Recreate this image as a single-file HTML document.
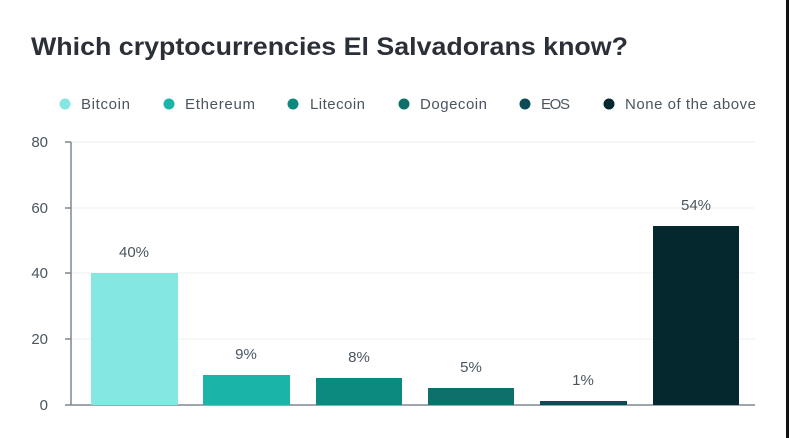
<!DOCTYPE html><html><head><style>body{margin:0;width:789px;height:438px;background:#fff;overflow:hidden;position:relative;font-family:"Liberation Sans",sans-serif}</style></head><body>
<div style="position:absolute;right:0;top:0;width:3px;height:438px;background:#111"></div>
<svg width="789" height="438" style="position:absolute;left:0;top:0" font-family="Liberation Sans, sans-serif">
<text x="31" y="55" font-size="25" font-weight="bold" fill="#2b3038" textLength="597" lengthAdjust="spacingAndGlyphs">Which cryptocurrencies El Salvadorans know?</text>
<g font-size="15" fill="#4a5560">
<circle cx="65" cy="104" r="5.5" fill="#84e8e1"/><text x="81" y="109" textLength="49">Bitcoin</text>
<circle cx="169" cy="104" r="5.5" fill="#1ab5a8"/><text x="185" y="109" textLength="70">Ethereum</text>
<circle cx="293" cy="104" r="5.5" fill="#0d8a80"/><text x="310" y="109" textLength="55">Litecoin</text>
<circle cx="404" cy="104" r="5.5" fill="#0e706b"/><text x="420" y="109" textLength="67">Dogecoin</text>
<circle cx="525" cy="104" r="5.5" fill="#0c4a55"/><text x="541" y="109" textLength="29">EOS</text>
<circle cx="609" cy="104" r="5.5" fill="#04282e"/><text x="625" y="109" textLength="131">None of the above</text>
</g>
<g stroke="#eef0f1"><line x1="71" x2="755" y1="142" y2="142"/><line x1="71" x2="755" y1="208" y2="208"/><line x1="71" x2="755" y1="273" y2="273"/><line x1="71" x2="755" y1="339" y2="339"/></g>
<g font-size="15" fill="#4a5560" text-anchor="end"><text x="48" y="147">80</text><text x="48" y="213">60</text><text x="48" y="278">40</text><text x="48" y="344">20</text><text x="48" y="410">0</text></g>
<g stroke="#7d8890" stroke-width="1.5"><line x1="71" x2="71" y1="142" y2="405"/><line x1="65" x2="71" y1="142" y2="142"/><line x1="65" x2="71" y1="208" y2="208"/><line x1="65" x2="71" y1="273" y2="273"/><line x1="65" x2="71" y1="339" y2="339"/><line x1="65" x2="755" y1="405" y2="405"/></g>
<rect x="91" y="273" width="87" height="132" fill="#84e8e1"/>
<rect x="203" y="375" width="87" height="30" fill="#1ab5a8"/>
<rect x="316" y="378" width="86" height="27" fill="#0d8a80"/>
<rect x="428" y="388" width="86" height="17" fill="#0e706b"/>
<rect x="540" y="401" width="87" height="4" fill="#0c4a55"/>
<rect x="653" y="226" width="86" height="179" fill="#04282e"/>
<g font-size="15" fill="#4a5560" text-anchor="middle"><text x="134" y="257">40%</text><text x="246" y="359">9%</text><text x="359" y="362">8%</text><text x="471" y="372">5%</text><text x="583" y="385">1%</text><text x="696" y="210">54%</text></g>
</svg></body></html>
